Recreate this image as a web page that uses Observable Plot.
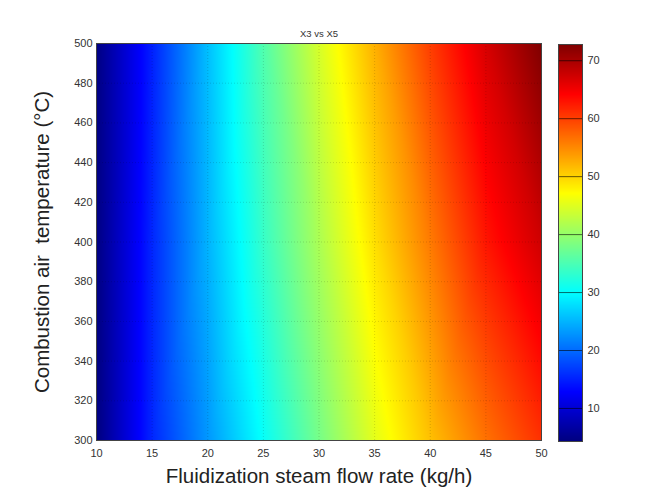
<!DOCTYPE html>
<html>
<head>
<meta charset="utf-8">
<script src="https://cdn.jsdelivr.net/npm/d3@7"></script>
<script src="https://cdn.jsdelivr.net/npm/@observablehq/plot@0.6"></script>
<style>
  html, body { margin: 0; padding: 0; background: #fff; }
  #wrap { display: flex; width: 648px; height: 495px; }
  #wrap svg { background: transparent; }
</style>
</head>
<body>
<div id="wrap"></div>
<script>
// ---- Data ----
const steamFlow = [10, 15, 20, 25, 30, 35, 40, 45, 50];          // x (kg/h)
const airTemp = [300, 400, 500];                                  // y (°C)
const valuesAt300 = [4.3, 15.4, 23.0, 30.4, 37.9, 45.3, 51.3, 56.6, 61.0];
const valuesAt400 = [4.5, 15.4, 24.9, 33.6, 41.5, 49.2, 56.0, 62.8, 67.5];
const valuesAt500 = [4.5, 15.0, 25.7, 35.4, 44.4, 52.4, 60.1, 66.9, 72.8];
const xTicks = [10, 15, 20, 25, 30, 35, 40, 45, 50];
const yTicks = [300, 320, 340, 360, 380, 400, 420, 440, 460, 480, 500];
const colorTicks = [10, 20, 30, 40, 50, 60, 70];
const colorDomain = [4.3, 72.8];
const title = "X3 vs X5";
const xLabel = "Fluidization steam flow rate (kg/h)";
const yLabel = "Combustion air\u00a0 temperature (°C)";

// ---- Build table ----
const rows = [valuesAt300, valuesAt400, valuesAt500];
const grid = [];
airTemp.forEach((t, i) => steamFlow.forEach((f, j) => grid.push({x: f, y: t, v: rows[i][j]})));

// MATLAB "jet" colormap
const jetStops = [0, 0.125, 0.375, 0.625, 0.875, 1];
const jetColors = ["#00007f", "#0000ff", "#00ffff", "#ffff00", "#ff0000", "#7f0000"];
const jetScale = d3.scaleLinear().domain(jetStops).range(jetColors).interpolate(d3.interpolateRgb).clamp(true);
const jet = t => jetScale(t);
const colorOpts = {type: "linear", domain: colorDomain, interpolate: jet};

const font = "Liberation Sans, Arial, sans-serif";

const main = Plot.plot({
  width: 548, height: 495,
  marginLeft: 96, marginRight: 7, marginTop: 43, marginBottom: 55,
  style: {fontFamily: font, background: "transparent"},
  x: {domain: [10, 50]},
  y: {domain: [300, 500]},
  color: colorOpts,
  marks: [
    Plot.raster(grid, {x: "x", y: "y", fill: "v", x1: 10, x2: 50, y1: 300, y2: 500, interpolate: "barycentric", pixelSize: 1}),
    Plot.gridX(xTicks, {stroke: "#000", strokeOpacity: 0.14, strokeDasharray: "1,2"}),
    Plot.gridY(yTicks, {stroke: "#000", strokeOpacity: 0.14, strokeDasharray: "1,2"}),
    Plot.frame({stroke: "#444", strokeWidth: 1}),
    Plot.axisX({ticks: xTicks, tickSize: 0, tickPadding: 9, fontSize: 11, fill: "#333", label: null}),
    Plot.axisY({ticks: yTicks, tickSize: 0, tickPadding: 4, fontSize: 11, fill: "#333", label: null}),
    Plot.text([title], {frameAnchor: "top", dy: -13, fontSize: 9.5, fill: "#333"}),
    Plot.text([xLabel], {frameAnchor: "bottom", dy: 42, fontSize: 20.5, fill: "#222", fontWeight: 300}),
    Plot.text([yLabel], {frameAnchor: "left", textAnchor: "middle", dx: -54, rotate: -90, fontSize: 20.5, fill: "#222", fontWeight: 300})
  ]
});

const bar = Plot.plot({
  width: 100, height: 495,
  marginLeft: 10, marginRight: 66, marginTop: 44, marginBottom: 54,
  style: {fontFamily: font, background: "transparent"},
  x: {domain: [0, 1], axis: null},
  y: {domain: colorDomain},
  color: colorOpts,
  marks: [
    Plot.raster({fill: (x, y) => y, x1: 0, x2: 1, y1: colorDomain[0], y2: colorDomain[1], width: 1, height: 300}),
    Plot.tickY(colorTicks, {x1: 0, x2: 0.12, stroke: "#000", strokeOpacity: 0.35}),
    Plot.tickY(colorTicks, {x1: 0.88, x2: 1, stroke: "#000", strokeOpacity: 0.35}),
    Plot.frame({stroke: "#444", strokeWidth: 1}),
    Plot.axisY({anchor: "right", ticks: colorTicks, tickSize: 0, tickPadding: 5, fontSize: 11, fill: "#333", label: null})
  ]
});

document.getElementById("wrap").append(main, bar);
</script>
</body>
</html>
